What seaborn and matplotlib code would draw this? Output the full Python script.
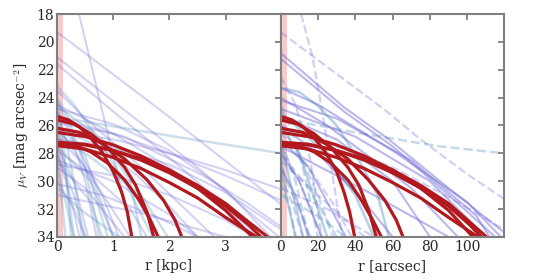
import matplotlib
matplotlib.use("Agg")
import matplotlib.pyplot as plt
import seaborn as sns

# ---- data: surface-brightness profiles ----
# left panel (r in kpc)
kpc_red = [
    [(0, 25.35), (0.2, 25.6), (0.4, 26.1), (0.6, 26.9), (0.8, 27.9), (1.0, 29.3), (1.15, 30.8), (1.25, 32.2), (1.33, 34)],
    [(0, 25.6), (0.3, 25.9), (0.6, 26.6), (0.9, 27.6), (1.2, 29.0), (1.4, 30.3), (1.6, 32.2), (1.72, 34)],
    [(0, 27.3), (0.3, 27.4), (0.6, 27.9), (0.9, 28.7), (1.2, 29.9), (1.45, 31.3), (1.65, 32.7), (1.8, 34)],
    [(0, 26.2), (0.4, 26.5), (0.8, 27.3), (1.2, 28.4), (1.6, 29.9), (1.9, 31.4), (2.1, 32.8), (2.22, 34)],
    [(0, 26.5), (0.5, 26.8), (1.0, 27.4), (1.5, 28.2), (2.0, 29.2), (2.5, 30.5), (3.0, 32.1), (3.48, 34)],
    [(0, 27.2), (0.5, 27.35), (1.0, 27.8), (1.5, 28.5), (2.0, 29.4), (2.5, 30.5), (3.0, 31.8), (3.4, 33.1), (3.63, 34)],
    [(0, 27.3), (0.5, 27.4), (1.0, 27.8), (1.5, 28.4), (2.0, 29.2), (2.5, 30.3), (3.0, 31.6), (3.4, 32.9), (3.75, 34)],
    [(0, 27.45), (0.5, 27.7), (1.0, 28.3), (1.5, 29.1), (2.0, 30.1), (2.5, 31.2), (3.0, 32.6), (3.55, 34)],
]
kpc_purple = [
    [(0.39, 18), (0.8, 24.9), (1.35, 34)],
    [(0, 19.3), (1.84, 24.9), (4, 31.7)],
    [(0, 21.1), (1.2, 24.9), (2.5, 29.0), (3.5, 32.5), (3.95, 34)],
    [(0, 21.6), (1.0, 25.0), (2.2, 29.0), (3.6, 34)],
    [(0, 23.5), (0.5, 25.5), (1.5, 29.0), (2.8, 34)],
    [(0, 24.5), (1.0, 26.6), (2.0, 29.0), (3.0, 32.0), (3.5, 34)],
    [(0, 25.0), (0.3, 27.0), (0.8, 31.0), (1.1, 34)],
    [(0, 26.0), (0.5, 29.0), (1.0, 34)],
    [(0, 27.5), (0.3, 30.0), (0.55, 34)],
    [(0, 28.0), (0.2, 30.5), (0.4, 34)],
    [(0, 27.0), (1.0, 27.6), (2.0, 28.8), (3.0, 30.8), (4, 33.5)],
    [(0, 26.5), (1.0, 27.0), (2.0, 28.0), (3.0, 29.2), (4, 30.6)],
    [(0, 25.8), (1.0, 26.6), (2.0, 28.0), (3.0, 29.6), (4, 31.4)],
    [(0, 24.8), (1.0, 25.9), (2.0, 27.8), (3.0, 30.6), (3.8, 34)],
    [(0, 29.0), (0.5, 30.5), (1.2, 34)],
    [(0, 30.0), (0.3, 32.0), (0.5, 34)],
    [(0, 26.2), (0.7, 27.4), (1.4, 29.5), (2.0, 31.8), (2.5, 34)],
    [(0, 28.5), (1.0, 30.0), (2.0, 32.4), (2.5, 34)],
    [(0, 31.0), (1.5, 32.3), (3.0, 34)],
    [(0, 25.5), (1.2, 26.8), (2.6, 29.6), (3.4, 31.6), (4, 33.3)],
    [(0, 27.8), (0.6, 29.5), (1.3, 32.0), (1.6, 34)],
    [(0, 24.2), (0.2, 26.0), (0.5, 30.0), (0.7, 34)],
    [(0, 28.8), (1.0, 29.6), (2.0, 31.0), (3.0, 32.8), (3.5, 34)],
    [(0, 30.2), (0.8, 31.0), (1.8, 32.6), (2.5, 34)],
    [(0, 26.8), (0.4, 28.5), (0.9, 31.5), (1.3, 34)],
]
kpc_blue = [
    [(0, 25.4), (2.25, 26.9), (4, 28.0)],
    [(0, 23.2), (0.3, 24.5), (0.7, 26.8), (1.2, 30.0), (1.7, 34)],
    [(0, 24.0), (0.2, 25.5), (0.5, 29.0), (0.75, 34)],
    [(0, 25.0), (0.15, 27.0), (0.35, 31.0), (0.45, 34)],
    [(0, 26.0), (0.1, 28.0), (0.3, 34)],
    [(0, 27.0), (0.05, 30.0), (0.15, 34)],
    [(0, 26.5), (0.5, 28.0), (1.5, 31.0), (1.97, 34)],
    [(0, 28.0), (0.3, 31.0), (0.5, 34)],
    [(0, 29.0), (0.15, 31.5), (0.3, 34)],
    [(0, 24.6), (0.8, 27.0), (1.3, 30.0), (1.5, 34)],
    [(0, 25.8), (0.5, 28.2), (1.0, 34)],
    [(0, 27.5), (0.6, 30.0), (0.9, 34)],
    [(0, 30.5), (0.4, 32.0), (1.1, 34)],
    [(0, 24.3), (0.1, 26.5), (0.25, 34)],
    [(0, 28.5), (0.6, 31.5), (0.8, 34)],
]

# right panel (r in arcsec)
arc_red = [
    [(0, 25.35), (6, 25.6), (12, 26.1), (18, 26.9), (24, 27.9), (30, 29.3), (34, 30.8), (37, 32.2), (39.7, 34)],
    [(0, 25.6), (9, 25.9), (18, 26.6), (27, 27.6), (36, 29.0), (42, 30.3), (47.5, 32.2), (51.3, 34)],
    [(0, 27.3), (9, 27.4), (18, 27.9), (27, 28.7), (36, 29.9), (43, 31.3), (49, 32.7), (54, 34)],
    [(0, 26.2), (12, 26.5), (24, 27.3), (36, 28.4), (47, 29.9), (56, 31.4), (62, 32.8), (65.6, 34)],
    [(0, 26.5), (15, 26.8), (30, 27.4), (45, 28.2), (60, 29.2), (75, 30.5), (90, 32.1), (103, 34)],
    [(0, 27.2), (15, 27.35), (30, 27.8), (45, 28.5), (60, 29.4), (75, 30.5), (90, 31.8), (101, 33.1), (107.6, 34)],
    [(0, 27.3), (15, 27.4), (30, 27.8), (45, 28.4), (60, 29.2), (75, 30.3), (90, 31.6), (101, 32.9), (110.3, 34)],
    [(0, 27.45), (15, 27.7), (30, 28.3), (45, 29.1), (60, 30.1), (75, 31.2), (90, 32.6), (105.7, 34)],
]
arc_purple = [
    [(0, 20.8), (34, 24.7), (58, 27.0), (90, 30.5), (120, 33.7)],
    [(0, 21.2), (34, 25.0), (60, 27.5), (90, 31.0), (115, 34)],
    [(0, 23.3), (20, 24.5), (60, 27.8), (100, 31.5), (118, 34)],
    [(0, 24.2), (30, 25.5), (70, 28.5), (105, 32.5), (112, 34)],
    [(0, 24.8), (40, 26.8), (80, 30.0), (110, 34)],
    [(0, 25.3), (30, 27.0), (60, 30.0), (80, 34)],
    [(0, 26.0), (20, 28.0), (45, 31.5), (60, 34)],
    [(0, 27.0), (15, 29.0), (35, 34)],
    [(0, 28.0), (10, 30.0), (22, 34)],
    [(0, 29.0), (8, 31.0), (15, 34)],
    [(0, 27.5), (50, 31.0), (90, 34)],
    [(0, 24.0), (25, 26.0), (70, 30.5), (95, 34)],
]
arc_purple_dash = [
    [(11, 18), (17, 21), (21, 24), (26, 28), (33, 34)],
    [(0, 19.3), (56, 24.9), (75, 27.0), (100, 29.5), (120, 31.3)],
    [(0, 26.5), (15, 29.0), (30, 32.0), (38, 34)],
    [(0, 27.5), (10, 30.0), (22, 34)],
    [(0, 28.5), (20, 31.0), (45, 34)],
    [(0, 22.5), (8, 24.5), (16, 28.5), (22, 34)],
    [(0, 29.5), (6, 31.5), (12, 34)],
    [(0, 30.5), (25, 32.0), (50, 34)],
    [(0, 26.0), (60, 29.0), (95, 31.5), (120, 33.5)],
]
arc_blue = [
    [(0, 23.3), (10, 23.6), (20, 24.6), (30, 26.0), (42, 28.5), (52, 31.0), (58, 34)],
    [(0, 25.0), (20, 27.5), (40, 31.0), (50, 34)],
    [(0, 26.0), (10, 28.0), (25, 34)],
    [(0, 27.0), (5, 30.0), (12, 34)],
    [(0, 28.0), (3, 31.0), (8, 34)],
]
arc_blue_dash = [
    [(0, 25.5), (40, 26.5), (85, 27.5), (120, 28.0)],
    [(0, 26.0), (10, 28.0), (20, 31.0), (28, 34)],
    [(0, 27.0), (8, 30.0), (15, 34)],
    [(0, 28.0), (15, 30.5), (30, 34)],
    [(0, 29.0), (10, 32.0), (16, 34)],
    [(0, 30.0), (5, 32.0), (8, 34)],
    [(0, 24.5), (5, 26.0), (12, 29.0), (20, 34)],
    [(0, 31.0), (20, 32.5), (35, 34)],
]

RED = "#b2191e"
PURPLE = "#6a62d4"
BLUE = "#6fa4c8"
PINK = "#f2b5b5"
GREY = "#7f7f7f"


def draw(ax, curves, color, lw, alpha, ls="-"):
    for c in curves:
        xs = [p[0] for p in c]
        ys = [p[1] for p in c]
        sns.lineplot(x=xs, y=ys, ax=ax, sort=False, color=color, lw=lw,
                     alpha=alpha, linestyle=ls, estimator=None)


sns.set_style("white")
plt.rcParams["font.family"] = ["DejaVu Serif"]
plt.rcParams["mathtext.fontset"] = "cm"

fig, (ax1, ax2) = plt.subplots(1, 2, figsize=(5.6, 2.8), dpi=100, sharey=True)
fig.subplots_adjust(left=0.102, right=0.9, bottom=0.154, top=0.95, wspace=0)

# left
ax1.axvspan(0, 0.1, color=PINK, alpha=0.7, lw=0, zorder=0)
draw(ax1, kpc_blue, BLUE, 1.8, 0.35)
draw(ax1, kpc_purple, PURPLE, 1.5, 0.28)
draw(ax1, kpc_red, RED, 2.3, 1.0)
ax1.set_xlim(0, 3.98)
ax1.set_xticks([0, 1, 2, 3])
ax1.set_xlabel("r [kpc]", fontsize=10)
ax1.set_ylabel(r"$\mu_V$ [mag arcsec$^{-2}$]", fontsize=10)

# right
ax2.axvspan(0, 3.5, color=PINK, alpha=0.7, lw=0, zorder=0)
draw(ax2, arc_blue_dash, BLUE, 1.8, 0.4, "--")
draw(ax2, arc_purple_dash, PURPLE, 1.6, 0.3, "--")
draw(ax2, arc_blue, BLUE, 1.8, 0.5)
draw(ax2, arc_purple, PURPLE, 1.5, 0.45)
draw(ax2, arc_red, RED, 2.3, 1.0)
ax2.set_xlim(0, 119.7)
ax2.set_xticks([0, 20, 40, 60, 80, 100])
ax2.set_xlabel("r [arcsec]", fontsize=10)

ax1.set_ylim(34, 18)
ax1.set_yticks([18, 20, 22, 24, 26, 28, 30, 32, 34])

for ax in (ax1, ax2):
    for s in ax.spines.values():
        s.set_color(GREY)
        s.set_linewidth(1.5)
    ax.tick_params(direction="in", length=4, width=1.3, color=GREY,
                   top=True, right=True, labelsize=10, pad=2)
ax2.tick_params(labelleft=False)

fig.savefig("out.png", dpi=100)
